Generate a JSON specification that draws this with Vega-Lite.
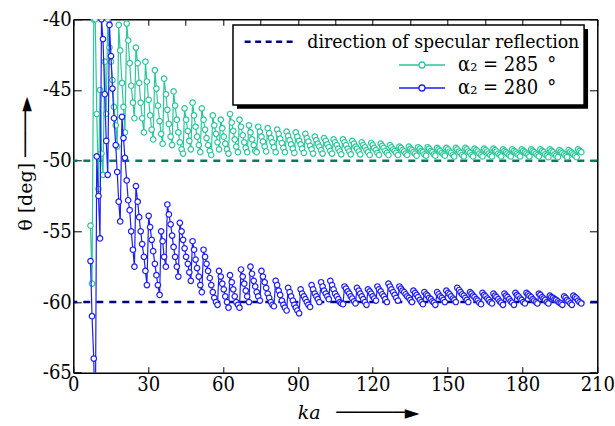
{
  "$schema": "https://vega.github.io/schema/vega-lite/v6.json",
  "width": 524,
  "height": 353.4,
  "autosize": {"type": "none"},
  "padding": {"left": 73.3, "top": 19.3, "right": 17.7, "bottom": 53.3},
  "background": "white",
  "config": {
    "view": {"stroke": null},
    "font": "DejaVu Serif",
    "axis": {"grid": false, "domainColor": "black", "domainWidth": 1.5, "tickColor": "black", "tickWidth": 1, "labelFont": "DejaVu Serif Condensed", "labelFontSize": 20, "labelColor": "black", "titleFont": "DejaVu Serif", "titleFontSize": 19, "titleFontWeight": "normal", "titleColor": "black", "labelFlush": false, "labelOverlap": false},
    "legend": {"labelFont": "DejaVu Serif Condensed", "labelFontSize": 19.3, "labelColor": "black", "labelLimit": 400, "title": null}
  },
  "datasets": {
    "ref": [{"s": "285", "r": -50}, {"s": "280", "r": -60}],
    "d": [
{"k":6.9,"g":-54.6,"b":-57.1},{"k":7.5,"g":-58.7,"b":-61},{"k":8.2,"g":-40,"b":-64},{"k":8.8,"g":-40,"b":-70},{"k":9.4,"g":-46.7,"b":-49.7},{"k":10.1,"g":-52,"b":-52.5},{"k":10.7,"g":-45,"b":-55.5},{"k":11.3,"g":-49.5,"b":-40},{"k":11.9,"g":-51,"b":-41.4},{"k":12.6,"g":-43,"b":-45.3},
{"k":13.2,"g":-46.7,"b":-48.6},{"k":13.8,"g":-40,"b":-51},{"k":14.5,"g":-42,"b":-40.4},{"k":15.1,"g":-43,"b":-42.6},{"k":15.7,"g":-44.3,"b":-44.9},{"k":16.3,"g":-46.2,"b":-47},{"k":17,"g":-47.5,"b":-48.9},{"k":17.6,"g":-49,"b":-50.8},{"k":18.2,"g":-40.4,"b":-52.9},{"k":18.8,"g":-42.2,"b":-54.3},
{"k":19.5,"g":-44.5,"b":-46.9},{"k":20.1,"g":-46.2,"b":-48.4},{"k":20.7,"g":-48,"b":-49.8},{"k":21.4,"g":-40.3,"b":-51.4},{"k":22,"g":-41.5,"b":-52.8},{"k":22.6,"g":-43.1,"b":-53.5},{"k":23.2,"g":-44.7,"b":-55},{"k":23.9,"g":-45.9,"b":-56.3},{"k":24.5,"g":-47,"b":-57.5},{"k":25.1,"g":-42,"b":-51.8},
{"k":25.8,"g":-43.1,"b":-52.9},{"k":26.4,"g":-44.5,"b":-54},{"k":27,"g":-45.9,"b":-55},{"k":27.6,"g":-47,"b":-55.9},{"k":28.3,"g":-48,"b":-56.8},{"k":28.9,"g":-43,"b":-57.8},{"k":29.5,"g":-44.4,"b":-58.8},{"k":30.2,"g":-45.7,"b":-53.9},{"k":30.8,"g":-46.8,"b":-54.7},{"k":31.4,"g":-47.8,"b":-55.6},
{"k":32,"g":-48.5,"b":-56.4},{"k":32.7,"g":-43.6,"b":-57.3},{"k":33.3,"g":-44.9,"b":-58.1},{"k":33.9,"g":-46.1,"b":-58.8},{"k":34.6,"g":-47.2,"b":-59.5},{"k":35.2,"g":-48.1,"b":-55},{"k":35.8,"g":-48.8,"b":-55.7},{"k":36.4,"g":-44.2,"b":-56.8},{"k":37.1,"g":-45.3,"b":-57.5},{"k":37.7,"g":-46.4,"b":-53.1},
{"k":38.3,"g":-47.4,"b":-53.8},{"k":39,"g":-48.3,"b":-54.5},{"k":39.6,"g":-48.9,"b":-55.3},{"k":40.2,"g":-45.1,"b":-56.1},{"k":40.8,"g":-46.1,"b":-56.8},{"k":41.5,"g":-47.1,"b":-57.5},{"k":42.1,"g":-48,"b":-58.2},{"k":42.7,"g":-48.7,"b":-54.4},{"k":43.4,"g":-49.2,"b":-55},{"k":44,"g":-49.5,"b":-55.6},
{"k":44.6,"g":-46.3,"b":-56.2},{"k":45.2,"g":-47.1,"b":-56.8},{"k":45.9,"g":-47.9,"b":-57.3},{"k":46.5,"g":-48.6,"b":-57.9},{"k":47.1,"g":-49.2,"b":-58.5},{"k":47.8,"g":-45.9,"b":-55.7},{"k":48.4,"g":-46.8,"b":-56.3},{"k":49,"g":-47.6,"b":-57},{"k":49.6,"g":-48.3,"b":-57.6},{"k":50.3,"g":-48.9,"b":-58.2},
{"k":50.9,"g":-49.4,"b":-58.8},{"k":51.5,"g":-46.3,"b":-59.3},{"k":52.2,"g":-47.1,"b":-56.3},{"k":52.8,"g":-47.8,"b":-56.8},{"k":53.4,"g":-48.4,"b":-57.3},{"k":54,"g":-48.9,"b":-57.8},{"k":54.7,"g":-49.3,"b":-58.3},{"k":55.3,"g":-49.6,"b":-58.8},{"k":55.9,"g":-46.8,"b":-59.3},{"k":56.5,"g":-47.5,"b":-59.7},
{"k":57.2,"g":-48.1,"b":-60},{"k":57.8,"g":-48.7,"b":-60.2},{"k":58.4,"g":-49.2,"b":-57.8},{"k":59.1,"g":-47.1,"b":-58.2},{"k":59.7,"g":-47.7,"b":-58.7},{"k":60.3,"g":-48.3,"b":-59.1},{"k":60.9,"g":-48.8,"b":-59.6},{"k":61.6,"g":-49.2,"b":-60},{"k":62.2,"g":-49.5,"b":-60.4},{"k":62.8,"g":-46.7,"b":-58.1},
{"k":63.5,"g":-47.3,"b":-58.6},{"k":64.1,"g":-47.9,"b":-59.1},{"k":64.7,"g":-48.5,"b":-59.6},{"k":65.3,"g":-49,"b":-60},{"k":66,"g":-49.4,"b":-60.2},{"k":66.6,"g":-47.1,"b":-60.4},{"k":67.2,"g":-47.6,"b":-57.7},{"k":67.9,"g":-48.2,"b":-58.2},{"k":68.5,"g":-48.7,"b":-58.7},{"k":69.1,"g":-49.1,"b":-59.2},
{"k":69.7,"g":-49.4,"b":-59.6},{"k":70.4,"g":-47.5,"b":-60},{"k":71,"g":-48,"b":-57.5},{"k":71.6,"g":-48.5,"b":-58},{"k":72.3,"g":-48.9,"b":-58.5},{"k":72.9,"g":-49.3,"b":-58.9},{"k":73.5,"g":-49.4,"b":-59.3},{"k":74.1,"g":-47.6,"b":-59.6},{"k":74.8,"g":-47.95,"b":-59.9},{"k":75.4,"g":-48.3,"b":-57.8},
{"k":76,"g":-48.65,"b":-58.2},{"k":76.7,"g":-49,"b":-58.6},{"k":77.3,"g":-49.35,"b":-59},{"k":77.9,"g":-47.7,"b":-59.4},{"k":78.5,"g":-48.05,"b":-59.7},{"k":79.2,"g":-48.4,"b":-60},{"k":79.8,"g":-48.7,"b":-60.2},{"k":80.4,"g":-49.05,"b":-60.3},{"k":81.1,"g":-49.4,"b":-58.5},{"k":81.7,"g":-47.8,"b":-58.8},
{"k":82.3,"g":-48.1,"b":-59.2},{"k":82.9,"g":-48.45,"b":-59.5},{"k":83.6,"g":-48.75,"b":-59.9},{"k":84.2,"g":-49.1,"b":-60.2},{"k":84.8,"g":-49.4,"b":-60.4},{"k":85.5,"g":-47.95,"b":-60.6},{"k":86.1,"g":-48.25,"b":-59},{"k":86.7,"g":-48.55,"b":-59.3},{"k":87.3,"g":-48.85,"b":-59.6},{"k":88,"g":-49.15,"b":-59.9},
{"k":88.6,"g":-49.45,"b":-60.2},{"k":89.2,"g":-48,"b":-60.4},{"k":89.8,"g":-48.3,"b":-60.6},{"k":90.5,"g":-48.6,"b":-60.8},{"k":91.1,"g":-48.85,"b":-59.1},{"k":91.7,"g":-49.15,"b":-59.4},{"k":92.4,"g":-49.45,"b":-59.6},{"k":93,"g":-48.1,"b":-59.8},{"k":93.6,"g":-48.4,"b":-60},{"k":94.2,"g":-48.65,"b":-60.2},
{"k":94.9,"g":-48.95,"b":-60.35},{"k":95.5,"g":-49.2,"b":-58.8},{"k":96.1,"g":-49.5,"b":-59.1},{"k":96.8,"g":-48.3,"b":-59.4},{"k":97.4,"g":-48.55,"b":-59.6},{"k":98,"g":-48.8,"b":-59.8},{"k":98.6,"g":-49,"b":-60},{"k":99.3,"g":-49.25,"b":-58.6},{"k":99.9,"g":-49.5,"b":-58.9},{"k":100.5,"g":-48.4,"b":-59.2},
{"k":101.2,"g":-48.6,"b":-59.4},{"k":101.8,"g":-48.85,"b":-59.6},{"k":102.4,"g":-49.05,"b":-59.8},{"k":103,"g":-49.3,"b":-58.5},{"k":103.7,"g":-49.5,"b":-58.8},{"k":104.3,"g":-48.5,"b":-59.1},{"k":104.9,"g":-48.7,"b":-59.4},{"k":105.6,"g":-48.9,"b":-59.6},{"k":106.2,"g":-49.15,"b":-59.8},{"k":106.8,"g":-49.35,"b":-60},
{"k":107.4,"g":-49.55,"b":-60.1},{"k":108.1,"g":-48.5,"b":-60.15},{"k":108.7,"g":-48.7,"b":-58.9},{"k":109.3,"g":-48.9,"b":-59.05},{"k":110,"g":-49.15,"b":-59.25},{"k":110.6,"g":-49.35,"b":-59.4},{"k":111.2,"g":-49.55,"b":-59.6},{"k":111.8,"g":-48.6,"b":-59.75},{"k":112.5,"g":-48.8,"b":-59.95},{"k":113.1,"g":-49,"b":-60.1},
{"k":113.7,"g":-49.15,"b":-59},{"k":114.4,"g":-49.35,"b":-59.2},{"k":115,"g":-49.55,"b":-59.4},{"k":115.6,"g":-48.7,"b":-59.6},{"k":116.2,"g":-48.9,"b":-59.8},{"k":116.9,"g":-49.05,"b":-60},{"k":117.5,"g":-49.25,"b":-60.2},{"k":118.1,"g":-49.4,"b":-59.1},{"k":118.8,"g":-49.6,"b":-59.25},{"k":119.4,"g":-48.75,"b":-59.4},
{"k":120,"g":-48.9,"b":-59.6},{"k":120.6,"g":-49.1,"b":-59.75},{"k":121.3,"g":-49.25,"b":-59.9},{"k":121.9,"g":-49.45,"b":-58.9},{"k":122.5,"g":-49.6,"b":-59.1},{"k":123.2,"g":-48.8,"b":-59.25},{"k":123.8,"g":-48.95,"b":-59.45},{"k":124.4,"g":-49.1,"b":-59.6},{"k":125,"g":-49.3,"b":-59.8},{"k":125.7,"g":-49.45,"b":-60},
{"k":126.3,"g":-49.6,"b":-58.7},{"k":126.9,"g":-48.9,"b":-58.9},{"k":127.5,"g":-49.05,"b":-59.1},{"k":128.2,"g":-49.2,"b":-59.3},{"k":128.8,"g":-49.3,"b":-59.5},{"k":129.4,"g":-49.45,"b":-59.7},{"k":130.1,"g":-49.6,"b":-59.9},{"k":130.7,"g":-49,"b":-58.9},{"k":131.3,"g":-49.1,"b":-59.05},{"k":131.9,"g":-49.25,"b":-59.2},
{"k":132.6,"g":-49.35,"b":-59.3},{"k":133.2,"g":-49.5,"b":-59.45},{"k":133.8,"g":-49.6,"b":-59.6},{"k":134.5,"g":-49,"b":-59.7},{"k":135.1,"g":-49.15,"b":-59.85},{"k":135.7,"g":-49.25,"b":-60},{"k":136.3,"g":-49.4,"b":-59.2},{"k":137,"g":-49.5,"b":-59.35},{"k":137.6,"g":-49.65,"b":-59.5},{"k":138.2,"g":-49.05,"b":-59.65},
{"k":138.9,"g":-49.15,"b":-59.85},{"k":139.5,"g":-49.3,"b":-60},{"k":140.1,"g":-49.4,"b":-60.15},{"k":140.7,"g":-49.55,"b":-59.3},{"k":141.4,"g":-49.65,"b":-59.45},{"k":142,"g":-49.05,"b":-59.55},{"k":142.6,"g":-49.15,"b":-59.7},{"k":143.3,"g":-49.3,"b":-59.8},{"k":143.9,"g":-49.4,"b":-59.95},{"k":144.5,"g":-49.55,"b":-60.05},
{"k":145.1,"g":-49.65,"b":-60.2},{"k":145.8,"g":-49.1,"b":-59.3},{"k":146.4,"g":-49.2,"b":-59.45},{"k":147,"g":-49.3,"b":-59.6},{"k":147.7,"g":-49.45,"b":-59.7},{"k":148.3,"g":-49.55,"b":-59.85},{"k":148.9,"g":-49.65,"b":-60},{"k":149.5,"g":-49.1,"b":-59.2},{"k":150.2,"g":-49.2,"b":-59.35},{"k":150.8,"g":-49.35,"b":-59.45},
{"k":151.4,"g":-49.45,"b":-59.6},{"k":152.1,"g":-49.6,"b":-59.75},{"k":152.7,"g":-49.7,"b":-59.85},{"k":153.3,"g":-49.1,"b":-60},{"k":153.9,"g":-49.2,"b":-59},{"k":154.6,"g":-49.35,"b":-59.15},{"k":155.2,"g":-49.45,"b":-59.3},{"k":155.8,"g":-49.6,"b":-59.45},{"k":156.5,"g":-49.7,"b":-59.55},{"k":157.1,"g":-49.1,"b":-59.7},
{"k":157.7,"g":-49.2,"b":-59.85},{"k":158.3,"g":-49.35,"b":-60},{"k":159,"g":-49.45,"b":-59.3},{"k":159.6,"g":-49.6,"b":-59.4},{"k":160.2,"g":-49.7,"b":-59.55},{"k":160.8,"g":-49.15,"b":-59.65},{"k":161.5,"g":-49.25,"b":-59.8},{"k":162.1,"g":-49.35,"b":-59.9},{"k":162.7,"g":-49.5,"b":-60.05},{"k":163.4,"g":-49.6,"b":-60.15},
{"k":164,"g":-49.7,"b":-59.35},{"k":164.6,"g":-49.15,"b":-59.5},{"k":165.2,"g":-49.25,"b":-59.6},{"k":165.9,"g":-49.35,"b":-59.75},{"k":166.5,"g":-49.5,"b":-59.85},{"k":167.1,"g":-49.6,"b":-60},{"k":167.8,"g":-49.7,"b":-60.1},{"k":168.4,"g":-49.15,"b":-59.4},{"k":169,"g":-49.25,"b":-59.55},{"k":169.6,"g":-49.35,"b":-59.65},
{"k":170.3,"g":-49.5,"b":-59.8},{"k":170.9,"g":-49.6,"b":-59.95},{"k":171.5,"g":-49.7,"b":-60.05},{"k":172.2,"g":-49.2,"b":-60.2},{"k":172.8,"g":-49.3,"b":-59.4},{"k":173.4,"g":-49.4,"b":-59.55},{"k":174,"g":-49.5,"b":-59.65},{"k":174.7,"g":-49.6,"b":-59.8},{"k":175.3,"g":-49.7,"b":-59.95},{"k":175.9,"g":-49.2,"b":-60.05},
{"k":176.6,"g":-49.3,"b":-60.2},{"k":177.2,"g":-49.4,"b":-59.35},{"k":177.8,"g":-49.5,"b":-59.5},{"k":178.4,"g":-49.6,"b":-59.6},{"k":179.1,"g":-49.7,"b":-59.75},{"k":179.7,"g":-49.2,"b":-59.85},{"k":180.3,"g":-49.3,"b":-60},{"k":181,"g":-49.4,"b":-60.1},{"k":181.6,"g":-49.5,"b":-59.35},{"k":182.2,"g":-49.6,"b":-59.45},
{"k":182.8,"g":-49.7,"b":-59.55},{"k":183.5,"g":-49.2,"b":-59.65},{"k":184.1,"g":-49.3,"b":-59.8},{"k":184.7,"g":-49.4,"b":-59.9},{"k":185.4,"g":-49.5,"b":-60},{"k":186,"g":-49.6,"b":-60.1},{"k":186.6,"g":-49.7,"b":-59.4},{"k":187.2,"g":-49.2,"b":-59.5},{"k":187.9,"g":-49.3,"b":-59.65},{"k":188.5,"g":-49.4,"b":-59.75},
{"k":189.1,"g":-49.55,"b":-59.85},{"k":189.8,"g":-49.65,"b":-60},{"k":190.4,"g":-49.75,"b":-60.1},{"k":191,"g":-49.2,"b":-59.55},{"k":191.6,"g":-49.3,"b":-59.65},{"k":192.3,"g":-49.4,"b":-59.7},{"k":192.9,"g":-49.55,"b":-59.8},{"k":193.5,"g":-49.65,"b":-59.85},{"k":194.2,"g":-49.75,"b":-59.95},{"k":194.8,"g":-49.25,"b":-60.05},
{"k":195.4,"g":-49.35,"b":-60.1},{"k":196,"g":-49.45,"b":-60.2},{"k":196.7,"g":-49.55,"b":-59.6},{"k":197.3,"g":-49.65,"b":-59.7},{"k":197.9,"g":-49.75,"b":-59.85},{"k":198.5,"g":-49.25,"b":-59.95},{"k":199.2,"g":-49.35,"b":-60.1},{"k":199.8,"g":-49.45,"b":-60.2},{"k":200.4,"g":-49.55,"b":-59.55},{"k":201.1,"g":-49.65,"b":-59.65},
{"k":201.7,"g":-49.75,"b":-59.75},{"k":202.3,"g":-49.2,"b":-59.9},{"k":202.9,"g":-49.3,"b":-60},{"k":203.6,"g":-49.4,"b":-60.1}
    ]
  },
  "resolve": {"scale": {"color": "independent"}, "legend": {"color": "independent"}, "axis": {"x": "independent", "y": "independent"}},
  "layer": [
    {
      "data": {"name": "ref"},
      "transform": [{"filter": "datum.s == '285'"}],
      "mark": {"type": "rule", "strokeDash": [7, 6], "strokeWidth": 2.5, "color": "#0b7a5a"},
      "encoding": {"y": {"field": "r", "type": "quantitative", "scale": {"domain": [-65, -40], "nice": false, "zero": false}, "axis": null}}
    },
    {
      "data": {"name": "ref"},
      "transform": [{"filter": "datum.s == '280'"}],
      "mark": {"type": "rule", "strokeDash": [7, 6], "strokeWidth": 2.5},
      "encoding": {
        "y": {"field": "r", "type": "quantitative", "scale": {"domain": [-65, -40], "nice": false, "zero": false}, "axis": null},
        "color": {"datum": "direction of specular reflection", "scale": {"range": ["#000080"]},
          "legend": {"orient": "none", "legendX": 206.7, "legendY": 12.7, "padding": 0, "symbolType": "M-9,0H1", "symbolSize": 100, "symbolDash": [6, 4.5], "symbolStrokeWidth": 2.5, "labelOffset": 8, "labelFontSize": 19.3, "labelLimit": 400}}
      }
    },
    {
      "data": {"name": "d"},
      "layer": [
        {
          "mark": {"type": "line", "strokeWidth": 1.2, "clip": true},
          "encoding": {
            "x": {"field": "k", "type": "quantitative", "scale": {"domain": [0, 210], "nice": false, "zero": false},
              "axis": {"orient": "bottom", "values": [0, 15, 30, 45, 60, 75, 90, 105, 120, 135, 150, 165, 180, 195, 210], "labelExpr": "datum.value % 30 === 0 ? datum.label : ''", "tickSize": -6, "labelPadding": 8, "title": "ka\u2002 ──────►", "titleFontStyle": "italic", "titleAnchor": "start", "titleAlign": "left", "titleBaseline": "alphabetic", "titleX": 224, "titleY": 46}},
            "y": {"field": "g", "type": "quantitative", "scale": {"domain": [-65, -40], "nice": false, "zero": false},
              "axis": {"orient": "left", "values": [-65, -60, -55, -50, -45, -40], "labelExpr": "'-' + abs(datum.value)", "tickSize": -8, "labelPadding": 10, "title": "θ [deg] ────►", "titleAngle": 270, "titleAnchor": "start", "titleAlign": "left", "titleBaseline": "middle", "titleX": -48, "titleY": 211}},
            "color": {"datum": "α₂ = 285\u2002°", "scale": {"domain": ["α₂ = 285\u2002°", "α₂ = 280\u2002°"], "range": ["#2ec79a", "#1e1ef5"]},
              "legend": {"orient": "none", "legendX": 356.7, "legendY": 35.7, "padding": 0, "symbolType": "M-8.2,0H-4.2M-3,0H1M-3,0A0.6,0.6,0,1,0,-4.2,0A0.6,0.6,0,1,0,-3,0", "symbolSize": 100, "symbolStrokeWidth": 1.3, "symbolFillColor": "white", "labelOffset": 8, "rowPadding": 3, "labelFontSize": 20, "labelLimit": 400}}
          }
        },
        {
          "mark": {"type": "point", "shape": "circle", "filled": false, "fill": "white", "size": 30, "strokeWidth": 1.2, "opacity": 1, "clip": true},
          "encoding": {
            "x": {"field": "k", "type": "quantitative"},
            "y": {"field": "g", "type": "quantitative"},
            "color": {"datum": "α₂ = 285\u2002°"}
          }
        },
        {
          "mark": {"type": "line", "strokeWidth": 1.2, "clip": true},
          "encoding": {
            "x": {"field": "k", "type": "quantitative"},
            "y": {"field": "b", "type": "quantitative"},
            "color": {"datum": "α₂ = 280\u2002°"}
          }
        },
        {
          "mark": {"type": "point", "shape": "circle", "filled": false, "fill": "white", "size": 30, "strokeWidth": 1.2, "opacity": 1, "clip": true},
          "encoding": {
            "x": {"field": "k", "type": "quantitative"},
            "y": {"field": "b", "type": "quantitative"},
            "color": {"datum": "α₂ = 280\u2002°"}
          }
        }
      ]
    },
    {
      "data": {"name": "d"},
      "mark": {"type": "point", "opacity": 0},
      "encoding": {
        "x": {"field": "k", "type": "quantitative", "scale": {"domain": [0, 210], "nice": false, "zero": false},
          "axis": {"orient": "top", "values": [0, 15, 30, 45, 60, 75, 90, 105, 120, 135, 150, 165, 180, 195, 210], "labels": false, "tickSize": -6, "title": null}},
        "y": {"field": "g", "type": "quantitative", "scale": {"domain": [-65, -40], "nice": false, "zero": false},
          "axis": {"orient": "right", "values": [-65, -60, -55, -50, -45, -40], "labels": false, "tickSize": -8, "title": null}}
      }
    },
    {
      "data": {"values": [{}]},
      "mark": {"type": "rect", "color": "black"},
      "encoding": {
        "x": {"datum": 65.6, "type": "quantitative", "scale": {"domain": [0, 210], "nice": false, "zero": false}, "axis": null},
        "x2": {"datum": 206.3},
        "y": {"datum": -40.68, "type": "quantitative", "scale": {"domain": [-65, -40], "nice": false, "zero": false}, "axis": null},
        "y2": {"datum": -46.33}
      }
    },
    {
      "data": {"values": [{}]},
      "mark": {"type": "rect", "fill": "white", "stroke": "black", "strokeWidth": 1.5},
      "encoding": {
        "x": {"datum": 64.0, "type": "quantitative", "scale": {"domain": [0, 210], "nice": false, "zero": false}, "axis": null},
        "x2": {"datum": 204.7},
        "y": {"datum": -40.4, "type": "quantitative", "scale": {"domain": [-65, -40], "nice": false, "zero": false}, "axis": null},
        "y2": {"datum": -46.07}
      }
    }
  ]
}
